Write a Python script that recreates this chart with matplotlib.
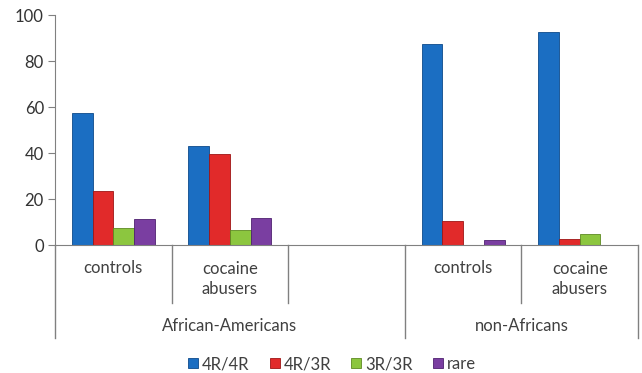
import matplotlib
matplotlib.use('Agg')
import matplotlib.pyplot as plt
import matplotlib.transforms as mtransforms
from matplotlib.patches import Patch
import numpy as np

plt.rcParams['font.family'] = ['Lato', 'DejaVu Sans']

categories = ["controls", "cocaine\nabusers", "", "controls", "cocaine\nabusers"]
groups = ["African-Americans", "non-Africans"]
group_spans = [(0, 3), (3, 5)]
series = ["4R/4R", "4R/3R", "3R/3R", "rare"]
values = {
    "4R/4R": [57.5, 43, 0, 87.5, 92.5],
    "4R/3R": [23.5, 39.5, 0, 10.5, 2.5],
    "3R/3R": [7.5, 6.5, 0, 0, 5],
    "rare":  [11.5, 11.8, 0, 2.2, 0],
}
colors = ["#1b6ec2", "#e12a2a", "#8cc63f", "#7a3ea1"]
edges = ["#0d4a8a", "#9e1515", "#5d8a22", "#4f2170"]

fig = plt.figure(figsize=(6.42, 3.73), dpi=100)
ax = fig.add_axes([55 / 642, 1 - 245 / 373, 583 / 642, 230 / 373])

x = np.arange(len(categories))
w = 0.178
for i, s in enumerate(series):
    ax.bar(x + (i - 1.5) * w, values[s], w, color=colors[i],
           edgecolor=edges[i], linewidth=0.6, zorder=2)

ax.set_xlim(-0.5, len(categories) - 0.5)
ax.set_ylim(0, 100)
ax.set_yticks(range(0, 101, 20))
ax.set_xticks([])
for side in ("top", "right"):
    ax.spines[side].set_visible(False)
ax.spines["left"].set_color("#808080")
ax.spines["bottom"].set_color("#808080")
ax.tick_params(axis="y", length=5, color="#808080", labelsize=12,
               labelcolor="#333333", pad=3)

trans = mtransforms.blended_transform_factory(ax.transData, ax.transAxes)
line_kw = dict(color="#808080", linewidth=1.0, transform=trans, clip_on=False)

# category separators
outer = {-0.5, 2.5, 4.5}
for e in np.arange(-0.5, len(categories), 1.0):
    bottom = -0.404 if e in outer else -0.252
    ax.plot([e, e], [0, bottom], **line_kw)

for xi, lab in zip(x, categories):
    if lab:
        ypos = -0.10 if "\n" not in lab else -0.148
        ax.text(xi, ypos, lab, transform=trans, ha="center", va="center",
                fontsize=12, color="#404040", linespacing=1.25)

for g, (a, b) in zip(groups, group_spans):
    ax.text((a + b - 1) / 2, -0.352, g, transform=trans, ha="center",
            va="center", fontsize=12, color="#404040")

handles = [Patch(facecolor=c, edgecolor=e, linewidth=0.6, label=s)
           for c, e, s in zip(colors, edges, series)]
fig.legend(handles=handles, loc="center", bbox_to_anchor=(332 / 642, 1 - 364 / 373),
           ncol=4, frameon=False, fontsize=12, handlelength=0.6, handleheight=0.6,
           handletextpad=0.25, columnspacing=1.2, labelcolor="#404040")

fig.savefig("out.png", dpi=100)
